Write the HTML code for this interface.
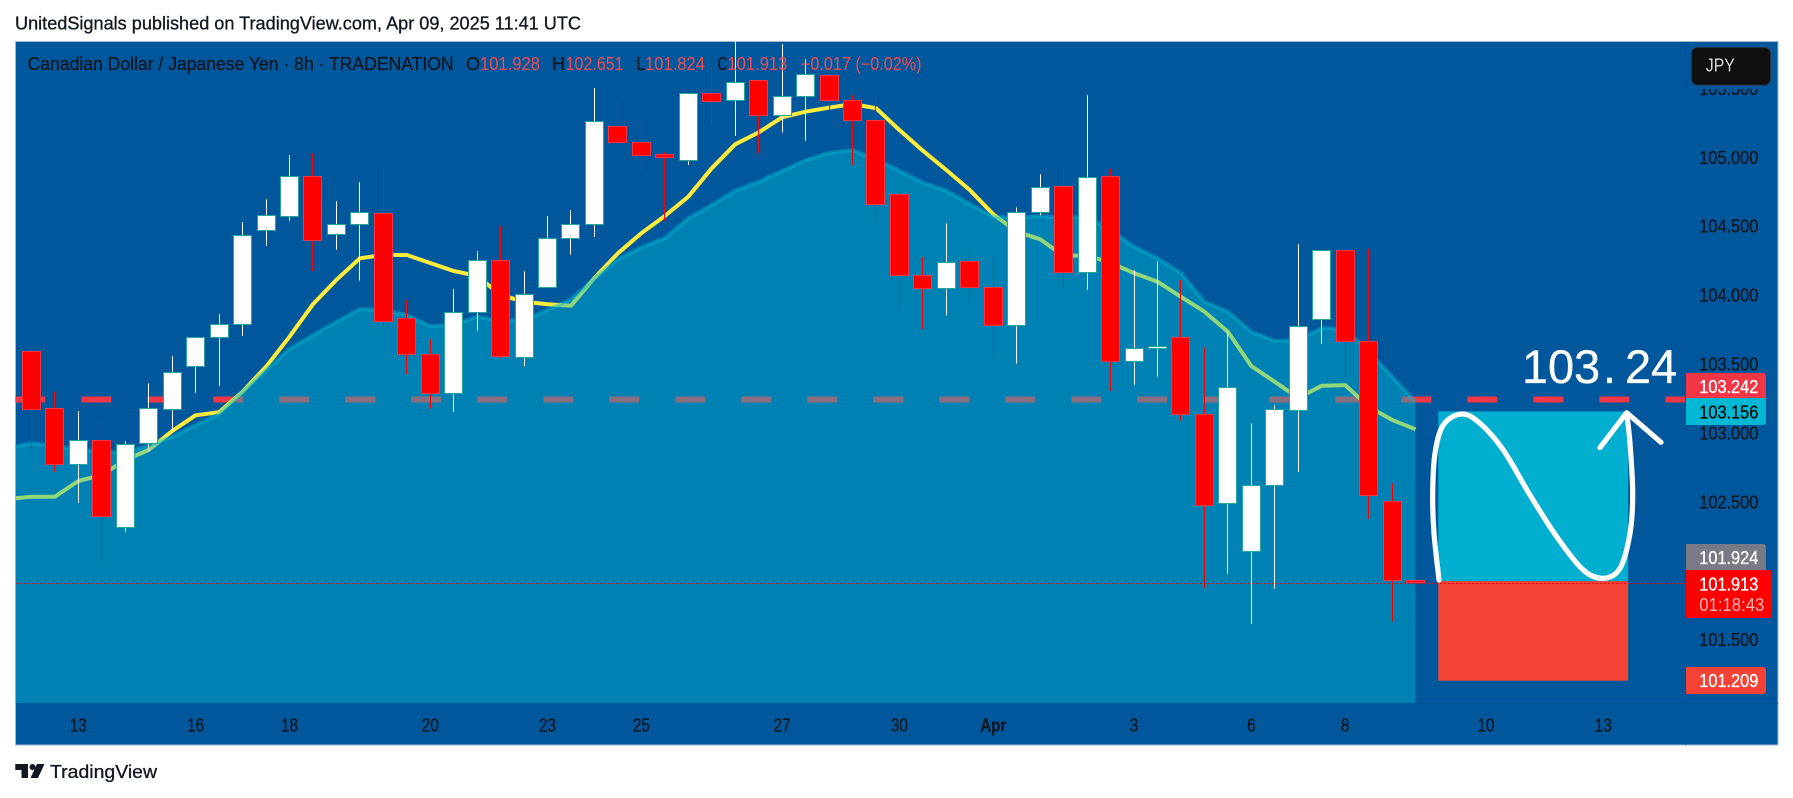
<!DOCTYPE html>
<html lang="en">
<head>
<meta charset="utf-8">
<title>CAD/JPY 8h chart</title>
<style>
html,body{margin:0;padding:0;background:#fff;width:1793px;height:798px;overflow:hidden}
svg{display:block}
text{font-family:"Liberation Sans",sans-serif}
text[fill="#131722"]{stroke:#131722;stroke-width:.3}
text[fill="#fff"]{stroke:#fff;stroke-width:.3}
text[fill="#0a0a0a"]{stroke:#0a0a0a;stroke-width:.3}
</style>
</head>
<body>
<svg id="chart" xmlns="http://www.w3.org/2000/svg" width="1793" height="798" viewBox="0 0 1793 798">
  <defs>
    <clipPath id="plot-clip"><rect x="15.5" y="41.5" width="1670" height="661.5"/></clipPath>
  </defs>
  <text x="15" y="29.3" font-size="18" fill="#131722" textLength="566" lengthAdjust="spacingAndGlyphs">UnitedSignals published on TradingView.com, Apr 09, 2025 11:41 UTC</text>
  <rect x="15.5" y="41.5" width="1762.5" height="703.5" fill="#01579b" stroke="#a3b8cc" stroke-width="1"/>
  <g id="plot" clip-path="url(#plot-clip)">
    <g id="price-lines"></g>
    <g id="ma-line-layer"></g>
    <g id="area-layer"></g>
    <g id="candles"></g>
    <g id="position"></g>
    <path d="M1439,580 C1438.2,572.2 1435.05,547.75 1434,533.3 C1432.95,518.85 1432.53,506.63 1432.7,493.3 C1432.87,479.97 1433.23,464.68 1435,453.3 C1436.77,441.92 1438.85,431.55 1443.3,425 C1447.75,418.45 1455.58,414.28 1461.7,414 C1467.82,413.72 1473.07,417.3 1480,423.3 C1486.93,429.3 1494.97,438.05 1503.3,450 C1511.63,461.95 1521.1,480.55 1530,495 C1538.9,509.45 1547.82,524.2 1556.7,536.7 C1565.58,549.2 1575.53,563.07 1583.3,570 C1591.07,576.93 1597.18,578.58 1603.3,578.3 C1609.42,578.02 1615.55,575.8 1620,568.3 C1624.45,560.8 1627.88,545.8 1630,533.3 C1632.12,520.8 1632.7,508.3 1632.7,493.3 C1632.7,478.3 1631,456.63 1630,443.3 C1629,429.97 1627.25,418.3 1626.7,413.3" fill="none" stroke="#fff" stroke-width="5.2" stroke-linecap="round"/>
    <path d="M1600,447.7 L1626.7,412.7 L1661,442.3" fill="none" stroke="#fff" stroke-width="5.2" stroke-linecap="round" stroke-linejoin="round"/>
    <text x="1522 1548 1574 1603 1625 1651" y="383" font-size="47" fill="#fff">103.24</text>
    <g id="last-price-line"></g>
  </g>

  <text x="27.6" y="70" font-size="18" fill="#131722" textLength="426" lengthAdjust="spacingAndGlyphs">Canadian Dollar / Japanese Yen · 8h · TRADENATION</text>
  <text x="466" y="70" font-size="18" fill="#131722" textLength="14" lengthAdjust="spacingAndGlyphs">O</text>
  <text x="480" y="70" font-size="18" fill="#f44a50" textLength="60" lengthAdjust="spacingAndGlyphs">101.928</text>
  <text x="552" y="70" font-size="18" fill="#131722" textLength="13" lengthAdjust="spacingAndGlyphs">H</text>
  <text x="565.6" y="70" font-size="18" fill="#f44a50" textLength="58" lengthAdjust="spacingAndGlyphs">102.651</text>
  <text x="636.4" y="70" font-size="18" fill="#131722" textLength="8.6" lengthAdjust="spacingAndGlyphs">L</text>
  <text x="645" y="70" font-size="18" fill="#f44a50" textLength="60" lengthAdjust="spacingAndGlyphs">101.824</text>
  <text x="717.5" y="70" font-size="18" fill="#131722" textLength="10" lengthAdjust="spacingAndGlyphs">C</text>
  <text x="727.4" y="70" font-size="18" fill="#f44a50" textLength="60" lengthAdjust="spacingAndGlyphs">101.913</text>
  <text x="800.9" y="70" font-size="18" fill="#f44a50" textLength="120.6" lengthAdjust="spacingAndGlyphs">−0.017 (−0.02%)</text>

  <line x1="1685.5" y1="42" x2="1685.5" y2="745" stroke="#02528f" stroke-width="1"/>
  <line x1="1415" y1="703.5" x2="1778" y2="703.5" stroke="#02528f" stroke-width="1"/>
  <g id="price-axis"></g>
  <g id="time-axis"></g>

  <rect x="1687" y="42" width="90" height="47" fill="#01579b"/>
  <rect x="1691.5" y="47.5" width="79" height="37.5" rx="6" fill="#0f0f0f" stroke="#2a2e39" stroke-width="1"/>
  <text x="1705.8" y="71.5" font-size="18" fill="#dbdbdb" textLength="29" lengthAdjust="spacingAndGlyphs">JPY</text>

  <path d="M1686,373 H1763 a3,3 0 0 1 3,3 V398 H1686 Z" fill="#f23645"/>
  <text x="1699.3" y="393" font-size="18" fill="#fff" textLength="59" lengthAdjust="spacingAndGlyphs">103.242</text>
  <path d="M1686,398 H1766 V422 a3,3 0 0 1 -3,3 H1686 Z" fill="#00b8d4"/>
  <text x="1699.3" y="418.5" font-size="18" fill="#0a0a0a" textLength="59" lengthAdjust="spacingAndGlyphs">103.156</text>
  <path d="M1686,544 H1763 a3,3 0 0 1 3,3 V570 H1686 Z" fill="#787b86"/>
  <text x="1699.3" y="564" font-size="18" fill="#fff" textLength="59" lengthAdjust="spacingAndGlyphs">101.924</text>
  <path d="M1686,570 H1769 a3,3 0 0 1 3,3 V615 a3,3 0 0 1 -3,3 H1686 Z" fill="#ff0000"/>
  <text x="1699.3" y="590.5" font-size="18" fill="#fff" textLength="59" lengthAdjust="spacingAndGlyphs">101.913</text>
  <text x="1699.3" y="611" font-size="18" fill="#ffb7b7" textLength="65" lengthAdjust="spacingAndGlyphs">01:18:43</text>
  <path d="M1686,667 H1763 a3,3 0 0 1 3,3 V691 a3,3 0 0 1 -3,3 H1686 Z" fill="#f44336"/>
  <text x="1699.3" y="687" font-size="18" fill="#fff" textLength="59" lengthAdjust="spacingAndGlyphs">101.209</text>

  <g>
    <path d="M15.3,764 H28 V778 H21.5 V770 H15.3 Z M37,764 H44.5 L38,778 H30.5 Z" fill="#131722"/>
    <circle cx="32.5" cy="767" r="3" fill="#131722"/>
    <text x="50" y="778" font-size="18" fill="#131722" textLength="107" lengthAdjust="spacingAndGlyphs">TradingView</text>
  </g>
</svg>
<script>
// Candle values, oldest first
const opens = [103.592,103.178,102.772,102.946,102.315,102.921,103.171,103.480,103.694,103.788,104.470,104.569,104.862,104.441,104.514,104.594,103.832,103.570,103.287,103.875,104.252,103.549,104.057,104.412,104.514,105.225,105.109,105.022,104.978,105.465,105.414,105.559,105.302,105.443,105.595,105.414,105.268,104.732,104.144,104.049,104.245,104.057,103.781,104.601,104.790,104.166,104.862,103.520,103.611,103.694,103.135,102.489,102.141,102.620,103.164,103.824,104.325,103.665,102.504,101.928];
const highs = [103.609,103.299,103.159,103.094,102.939,103.360,103.558,103.696,103.863,104.530,104.697,105.017,105.029,104.683,104.821,104.928,103.965,103.679,104.044,104.320,104.501,104.175,104.574,104.618,105.503,105.416,105.271,105.038,105.467,105.653,105.851,105.561,105.822,105.711,105.633,105.450,105.450,104.768,104.274,104.521,104.318,104.274,104.637,104.879,104.915,105.452,104.915,104.182,104.242,104.110,103.621,103.734,103.070,103.202,104.371,104.327,104.347,104.335,102.634,102.651];
const lows = [102.864,102.718,102.493,102.043,102.283,102.869,103.021,103.290,103.340,103.705,104.356,104.540,104.175,104.327,104.105,103.734,103.427,103.176,103.152,103.742,103.544,103.485,104.057,104.291,104.422,105.106,104.901,104.540,104.944,105.242,105.155,105.031,105.179,105.120,105.295,104.944,104.533,103.897,103.752,103.851,103.930,103.553,103.502,104.579,104.057,104.037,103.306,103.350,103.408,103.089,101.874,101.976,101.615,101.869,102.718,103.645,103.404,102.377,101.633,101.824];
const closes = [103.171,102.772,102.943,102.395,102.917,103.178,103.440,103.694,103.788,104.434,104.579,104.862,104.398,104.514,104.601,103.807,103.567,103.287,103.875,104.250,103.553,104.006,104.412,104.514,105.261,105.106,105.012,104.997,105.465,105.403,105.544,105.302,105.443,105.602,105.414,105.268,104.659,104.144,104.047,104.238,104.054,103.781,104.601,104.782,104.163,104.855,103.520,103.614,103.628,103.132,102.472,103.331,102.620,103.171,103.774,104.325,103.665,102.547,101.928,101.913];

// Moving averages; the first value belongs to the bar just left of the visible window
const fastMa = [102.520,102.537,102.537,102.651,102.694,102.803,102.876,103.014,103.128,103.150,103.299,103.480,103.698,103.933,104.110,104.267,104.291,104.291,104.233,104.175,104.139,104.001,103.952,103.933,103.923,104.124,104.303,104.449,104.574,104.714,104.920,105.094,105.181,105.290,105.331,105.360,105.387,105.356,105.198,105.048,104.908,104.763,104.586,104.460,104.405,104.284,104.289,104.233,104.160,104.097,103.988,103.880,103.734,103.485,103.371,103.255,103.342,103.347,103.190,103.094,103.026];
const slowMa = [102.890,102.927,102.907,102.876,102.864,102.856,102.907,102.972,103.057,103.137,103.299,103.456,103.609,103.710,103.807,103.899,103.892,103.856,103.776,103.783,103.843,103.814,103.819,103.892,103.969,104.122,104.260,104.347,104.414,104.557,104.654,104.758,104.823,104.901,104.980,105.033,105.053,104.985,104.903,104.816,104.758,104.661,104.569,104.560,104.574,104.560,104.569,104.472,104.351,104.267,104.160,103.952,103.880,103.734,103.669,103.674,103.761,103.752,103.589,103.408,103.226];

// Axis labels
const priceTicks = [105.5,105,104.5,104,103.5,103,102.5,102,101.5];
const timeLabels = ['13','16','18','20','23','25','27','30','Apr','3','6','8','10','13'];
const timeBars = [2,7,11,17,22,26,32,37,41,47,52,56,62,67];

// Horizontal levels
const dashedLevel = 103.242;
const lastPrice = 101.913;
const targetPrice = 103.156;
const entryPrice = 101.924;
const stopPrice = 101.209;

const NS = 'http://www.w3.org/2000/svg';
function xAt(i){ return 31.4 + 23.46 * i; }
function yAt(p){ return 157.3 + (105 - p) * 137.8; }
function snap(v){ return Math.floor(v) + 0.5; }
function make(tag, parent){
  const el = document.createElementNS(NS, tag);
  parent.appendChild(el);
  return el;
}

// dashed horizontal level, beneath the translucent area
const priceLines = document.getElementById('price-lines');
const dash = make('line', priceLines);


dash.setAttribute('x1', 15.3);
dash.setAttribute('x2', 1685);
dash.setAttribute('y1', yAt(dashedLevel));
dash.setAttribute('y2', yAt(dashedLevel));
dash.setAttribute('stroke', '#f23645');
dash.setAttribute('stroke-width', 6);
dash.setAttribute('stroke-dasharray', '30 36');

// fast moving average
const maLayer = document.getElementById('ma-line-layer');
const fastLine = make('polyline', maLayer);


fastLine.setAttribute('points', fastMa.map((v, k) => xAt(k - 1).toFixed(1) + ',' + yAt(v).toFixed(1)).join(' '));
fastLine.setAttribute('fill', 'none');
fastLine.setAttribute('stroke', '#ffeb3b');
fastLine.setAttribute('stroke-width', 4);
fastLine.setAttribute('stroke-linejoin', 'round');

// slow moving average as filled area
const areaLayer = document.getElementById('area-layer');
const slowPts = slowMa.map((v, k) => xAt(k - 1).toFixed(1) + ',' + yAt(v).toFixed(1));
const area = make('polygon', areaLayer);


area.setAttribute('points', slowPts.join(' ') + ' ' + xAt(59).toFixed(1) + ',703 ' + xAt(-1).toFixed(1) + ',703');
area.setAttribute('fill', '#00bcd4');
area.setAttribute('fill-opacity', '0.42');
const areaEdge = make('polyline', areaLayer);


areaEdge.setAttribute('points', slowPts.join(' '));
areaEdge.setAttribute('fill', 'none');
areaEdge.setAttribute('stroke', '#00bcd4');
areaEdge.setAttribute('stroke-opacity', '0.42');
areaEdge.setAttribute('stroke-width', 4);

// candles
const candleGroup = document.getElementById('candles');
opens.forEach((open, i) => {
  const close = closes[i];
  const up = close >= open;
  const cx = snap(xAt(i));
  const wick = make('line', candleGroup);
  
  
  wick.setAttribute('x1', cx);
  wick.setAttribute('x2', cx);
  wick.setAttribute('y1', yAt(highs[i]));
  wick.setAttribute('y2', yAt(lows[i]));
  wick.setAttribute('stroke', up ? '#ffffff' : '#ff0000');
  wick.setAttribute('stroke-width', 1);
  const top = snap(yAt(Math.max(open, close)));
  const bottom = snap(yAt(Math.min(open, close)));
  const body = make('rect', candleGroup);
  
  
  body.setAttribute('x', cx - 9);
  body.setAttribute('y', top);
  body.setAttribute('width', 18);
  body.setAttribute('height', Math.max(bottom - top, 1));
  body.setAttribute('fill', up ? '#ffffff' : '#ff0000');
  body.setAttribute('stroke', up ? '#26a69a' : '#f23645');
  body.setAttribute('stroke-width', 1);
});

// long position tool
const positionGroup = document.getElementById('position');
const boxLeft = xAt(59.97);
const boxRight = xAt(68.06);
const profit = make('rect', positionGroup);


profit.setAttribute('x', boxLeft);
profit.setAttribute('y', yAt(targetPrice));
profit.setAttribute('width', boxRight - boxLeft);
profit.setAttribute('height', yAt(entryPrice) - yAt(targetPrice));
profit.setAttribute('fill', '#00afcf');
const loss = make('rect', positionGroup);


loss.setAttribute('x', boxLeft);
loss.setAttribute('y', yAt(entryPrice));
loss.setAttribute('width', boxRight - boxLeft);
loss.setAttribute('height', yAt(stopPrice) - yAt(entryPrice) + 1);
loss.setAttribute('fill', '#f44437');

// last price dotted line
const lastGroup = document.getElementById('last-price-line');
const lastLine = make('line', lastGroup);


lastLine.setAttribute('x1', 16);
lastLine.setAttribute('x2', 1685);
lastLine.setAttribute('y1', Math.round(yAt(lastPrice)) + 0.5);
lastLine.setAttribute('y2', Math.round(yAt(lastPrice)) + 0.5);
lastLine.setAttribute('stroke', '#ff0000');
lastLine.setAttribute('stroke-width', 1);
lastLine.setAttribute('stroke-dasharray', '2 2');
lastLine.setAttribute('shape-rendering', 'crispEdges');

// price axis labels
const priceAxis = document.getElementById('price-axis');
priceTicks.forEach(p => {
  const t = make('text', priceAxis);
  
  
  t.setAttribute('x', 1699.3);
  t.setAttribute('y', yAt(p) + 6.5);
  t.setAttribute('font-size', 18);
  t.setAttribute('fill', '#131722');
  t.setAttribute('textLength', 59);
  t.setAttribute('lengthAdjust', 'spacingAndGlyphs');
  t.textContent = p.toFixed(3);
});

// time axis labels
const timeAxis = document.getElementById('time-axis');
timeLabels.forEach((label, k) => {
  const t = make('text', timeAxis);
  
  
  const w = label === 'Apr' ? 26 : label.length * 8.5;
  t.setAttribute('x', xAt(timeBars[k]) - w / 2);
  t.setAttribute('y', 731.3);
  t.setAttribute('font-size', 18);
  t.setAttribute('fill', '#131722');
  t.setAttribute('textLength', w);
  t.setAttribute('lengthAdjust', 'spacingAndGlyphs');
  if (label === 'Apr') t.setAttribute('font-weight', 'bold');
  t.textContent = label;
});
</script>
</body>
</html>
